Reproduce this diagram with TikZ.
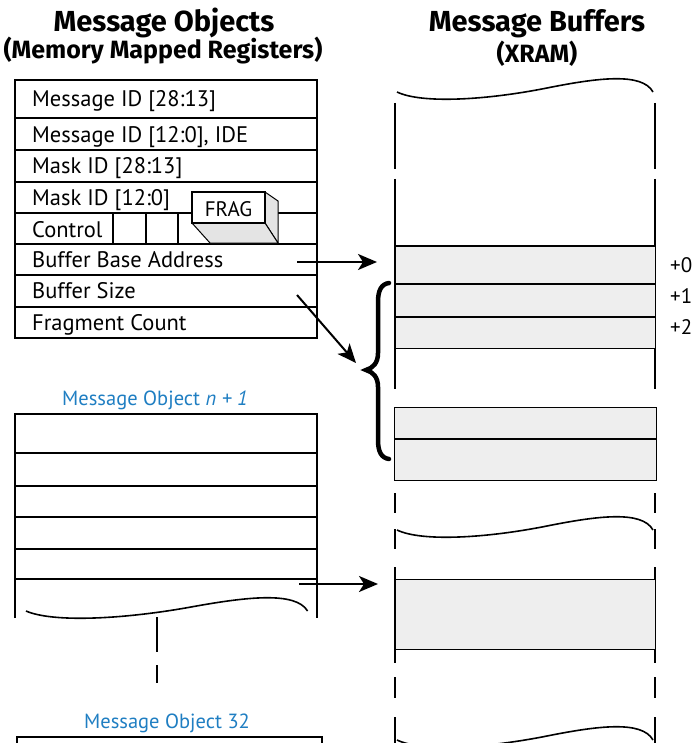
\documentclass[tikz,border=0pt]{standalone}
\usepackage{fontspec}
\setmainfont{PT Sans}
\newfontfamily\headfont{Fira Sans}
\usetikzlibrary{arrows.meta}
\definecolor{bufshade}{HTML}{EEEEEE}
\definecolor{fragshade}{HTML}{E4E4E4}
\definecolor{objblue}{HTML}{1F7EC2}

% wavy break line, 256 units wide, starting at the given point
\newcommand{\breakwave}[3]{%
  \begin{scope}[shift={(#1,#2)}, xscale=#3]
    \draw[wave] (0,0) .. controls (25,12) and (90,8) .. (150,-4)
      .. controls (200,-14) and (245,-20) .. (256,0);
  \end{scope}}

\begin{document}
\begin{tikzpicture}[x=1pt, y=-1pt,
  frame/.style={line width=2.2pt},
  rowline/.style={line width=1.1pt},
  field/.style={anchor=base west, inner sep=0pt, font=\fontsize{22.5}{22.5}\selectfont},
  offs/.style={anchor=base west, inner sep=0pt, font=\fontsize{21}{21}\selectfont},
  title/.style={anchor=base, inner sep=0pt, font=\headfont\bfseries\fontsize{29}{29}\selectfont},
  subtitle/.style={anchor=base, inner sep=0pt, font=\headfont\bfseries\fontsize{25}{25}\selectfont},
  caption/.style={anchor=base, inner sep=0pt, text=objblue, font=\fontsize{20.5}{20.5}\selectfont},
  wave/.style={line width=1.6pt},
  ptr/.style={line width=2pt, -{Stealth[length=19pt, width=16pt, inset=5pt]}},
  side/.style={line width=1.5pt},
  bufbox/.style={fill=bufshade, draw, line width=1.2pt},
  brace/.style={line width=4.5pt, line cap=round},
]
\useasboundingbox (0,0) rectangle (692,743);

% ---- column headings
\node[title]    (hobj)  at (164,32) {Message Objects};
\node[subtitle] (hobj2) at (163,59) {(Memory Mapped Registers)};
\node[title]    (hbuf)  at (537,32) {Message Buffers};
\node[subtitle] (hbuf2) at (537,63) {(XRAM)};

% ---- message object n
\foreach \y in {118,150,182,213,244,275,307}
  \draw[rowline] (15,\y) -- (317,\y);
\foreach \x in {113,146,178}
  \draw[rowline] (\x,213) -- (\x,244);
\draw[frame] (15,80) rectangle (317,338);

\node[field] (f1) at (32,107) {Message ID [28:13]};
\node[field] (f2) at (32,143) {Message ID [12:0], IDE};
\node[field] (f3) at (32,174) {Mask ID [28:13]};
\node[field] (f4) at (32,206) {Mask ID [12:0]};
\node[field] (f5) at (32,237) {Control};
\node[field] (f6) at (32,267) {Buffer Base Address};
\node[field] (f7) at (32,298) {Buffer Size};
\node[field] (f8) at (32,330) {Fragment Count};

% FRAG bit drawn as a raised key
\filldraw[fill=fragshade, line width=1pt] (265,192) -- (278,201) -- (278,243) -- (265,223) -- cycle;
\filldraw[fill=fragshade, line width=1pt] (192,223) -- (265,223) -- (278,243) -- (210,243) -- cycle;
\filldraw[fill=white, line width=1.2pt] (192,192) rectangle (265,223);
\node[inner sep=0pt, anchor=base, font=\fontsize{21}{21}\selectfont] (frag) at (228.5,216) {FRAG};

% ---- message object n+1
\node[caption] (cap1) at (155,405) {Message Object \textit{n + 1}};
\foreach \y in {453,486,517,549,579}
  \draw[rowline] (15,\y) -- (317,\y);
\draw[frame] (15,618) -- (15,414) -- (317,414) -- (317,618);
\breakwave{26}{611}{1.1}
\draw[side] (157,617) -- (157,652);
\draw[side] (157,665) -- (157,683);

% ---- message object 32
\node[caption] (cap2) at (167,728) {Message Object 32};
\draw[frame] (17,750) -- (17,737) -- (322,737) -- (322,750);

% ---- message buffer column
\breakwave{397}{92}{1}
\foreach \x in {395,655}{
  \draw[side] (\x,103) -- (\x,169);
  \draw[side] (\x,179) -- (\x,389);
  \draw[side] (\x,493) -- (\x,513);
  \draw[side] (\x,529) -- (\x,549);
  \draw[side] (\x,567) -- (\x,663);
  \draw[side] (\x,677) -- (\x,698);
  \draw[side] (\x,717) -- (\x,750);
}

% buffer of message object n
\node[bufbox, minimum width=260pt, minimum height=102pt, anchor=north west, inner sep=0pt] (buf0) at (395,246) {};
\draw[rowline] (395,284) -- (655,284);
\draw[rowline] (395,317) -- (655,317);
\draw[frame] (394,246) -- (656,246);
\node[offs] (o0) at (670,272) {+0};
\node[offs] (o1) at (670,303) {+1};
\node[offs] (o2) at (670,334) {+2};

\node[bufbox, minimum width=262pt, minimum height=73pt, anchor=north west, inner sep=0pt] (buf1) at (394,407) {};
\draw[rowline] (394,439) -- (656,439);

\breakwave{397}{530}{1}

% buffer of message object n+1
\node[bufbox, minimum width=260pt, minimum height=70pt, anchor=north west, inner sep=0pt] (buf2) at (395,579) {};

\breakwave{397}{740}{1}

% ---- size brace
\draw[brace] (389,283) .. controls (381,284) and (378,291) .. (378,302)
  -- (378,353) .. controls (378,363) and (373,368) .. (366,370)
  .. controls (373,372) and (378,377) .. (378,387)
  -- (378,440) .. controls (378,451) and (381,458) .. (389,459);

% ---- pointers
\coordinate (pbase) at (297,262);
\coordinate (pbaseend) at (377,262);
\coordinate (psize) at (297,295);
\coordinate (psizeend) at (356,363);
\coordinate (pnext) at (299,584);
\coordinate (pnextend) at (378,584);
\draw[ptr] (pbase) -- (pbaseend);
\draw[ptr] (psize) -- (psizeend);
\draw[ptr] (pnext) -- (pnextend);
\end{tikzpicture}
\end{document}
